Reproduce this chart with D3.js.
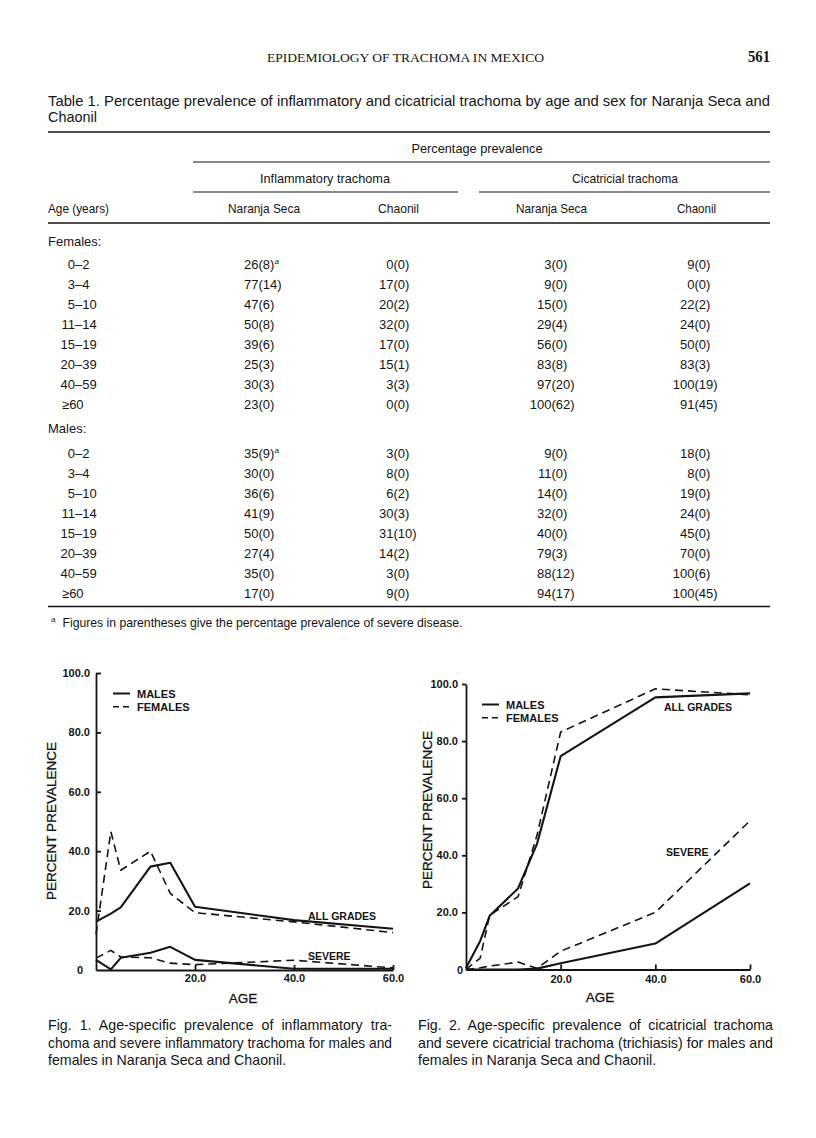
<!DOCTYPE html>
<html><head><meta charset="utf-8">
<script src="https://cdn.jsdelivr.net/npm/d3@7"></script>
<style>body{margin:0;background:#fff} svg{display:block}</style>
</head><body>
<svg id="page" width="816" height="1138"></svg>
<script>
// ---------- text content ----------
const pageHeader = "EPIDEMIOLOGY OF TRACHOMA IN MEXICO";
const pageNumber = "561";
const tableCaption = ["Table 1. Percentage prevalence of inflammatory and cicatricial trachoma by age and sex for Naranja Seca and", "Chaonil"];
const spanHeader = "Percentage prevalence";
const groupHeaders = ["Inflammatory trachoma", "Cicatricial trachoma"];
const columnHeaders = ["Age (years)", "Naranja Seca", "Chaonil", "Naranja Seca", "Chaonil"];
const sexLabels = ["Females:", "Males:"];
const ageGroups = ["0–2", "3–4", "5–10", "11–14", "15–19", "20–39", "40–59", "≥60"];
const footnote = "Figures in parentheses give the percentage prevalence of severe disease.";

// ---------- table values: prevalence (severe) ----------
const femInflNS  = [26, 77, 47, 50, 39, 25, 30, 23];
const femInflNSs = [8, 14, 6, 8, 6, 3, 3, 0];
const femInflCh  = [0, 17, 20, 32, 17, 15, 3, 0];
const femInflChs = [0, 0, 2, 0, 0, 1, 3, 0];
const femCicNS   = [3, 9, 15, 29, 56, 83, 97, 100];
const femCicNSs  = [0, 0, 0, 4, 0, 8, 20, 62];
const femCicCh   = [9, 0, 22, 24, 50, 83, 100, 91];
const femCicChs  = [0, 0, 2, 0, 0, 3, 19, 45];
const malInflNS  = [35, 30, 36, 41, 50, 27, 35, 17];
const malInflNSs = [9, 0, 6, 9, 0, 4, 0, 0];
const malInflCh  = [3, 8, 6, 30, 31, 14, 3, 9];
const malInflChs = [0, 0, 2, 3, 10, 2, 0, 0];
const malCicNS   = [9, 11, 14, 32, 40, 79, 88, 94];
const malCicNSs  = [0, 0, 0, 0, 0, 3, 12, 17];
const malCicCh   = [18, 8, 19, 24, 45, 70, 100, 100];
const malCicChs  = [0, 0, 0, 0, 0, 0, 6, 45];

// ---------- figure data ----------
const ages = [0, 3, 5, 11, 15, 20, 40, 60];
const yTicks = [20, 40, 60, 80, 100];
const xTicks = [20, 40, 60];
const legendLabels = ["MALES", "FEMALES"];
const fig1MalesAll     = [16.3, 19, 21.1, 34.8, 36.1, 21.3, 16.8, 13.9];
const fig1FemalesAll   = [12, 46.6, 33.6, 40, 25.8, 19.3, 16.2, 12.6];
const fig1MalesSevere  = [3.4, 0.2, 4.1, 5.8, 7.8, 3.4, 0.4, 0.4];
const fig1FemalesSevere= [4.0, 6.6, 4.4, 4.1, 2.3, 1.8, 3.3, 0.7];
const fig2MalesAll     = [0.5, 10, 18.8, 28.4, 44, 74.7, 95.3, 96.7];
const fig2FemalesAll   = [0, 4, 19, 25.5, 47, 83.2, 98.3, 96.2];
const fig2MalesSevere  = [0, 0, 0, 0, 0.3, 2.2, 9.1, 30.2];
const fig2FemalesSevere= [0, 0.6, 1.2, 2.6, 0.4, 6.4, 20, 52.1];
const fig1Caption = ["Fig. 1. Age-specific prevalence of inflammatory tra-", "choma and severe inflammatory trachoma for males and", "females in Naranja Seca and Chaonil."];
const fig2Caption = ["Fig. 2. Age-specific prevalence of cicatricial trachoma", "and severe cicatricial trachoma (trichiasis) for males and", "females in Naranja Seca and Chaonil."];

// ---------- drawing ----------
const svg = d3.select("#page");
const INK = "#141414";
const SANS = "'Liberation Sans', Arial, sans-serif";
const SERIF = "'Liberation Serif', 'Times New Roman', serif";

function txt(x, y, s, opts = {}) {
  const t = svg.append("text").attr("x", x).attr("y", y).text(s)
    .attr("font-family", opts.family || SANS)
    .attr("font-size", opts.size || 13)
    .attr("fill", INK)
    .attr("text-anchor", opts.anchor || "start");
  if (opts.weight) t.attr("font-weight", opts.weight);
  if (opts.width) fit(t, opts.width);
  return t;
}
function fit(t, w) {
  const n = t.node().getComputedTextLength();
  if (Math.abs(n - w) > 1) t.attr("textLength", w).attr("lengthAdjust", "spacingAndGlyphs");
}
function justify(t, w) {
  const n = t.node().getComputedTextLength();
  const spaces = (t.text().match(/ /g) || []).length;
  if (n < w && spaces) t.attr("word-spacing", (w - n) / spaces);
  else if (n > w) t.attr("textLength", w).attr("lengthAdjust", "spacingAndGlyphs");
}
function rule(x1, x2, y, w) {
  svg.append("line").attr("x1", x1).attr("x2", x2).attr("y1", y).attr("y2", y)
    .attr("stroke", INK).attr("stroke-width", w || 1.2);
}

// page header
txt(405.5, 61.5, pageHeader, {family: SERIF, size: 12.5, anchor: "middle", width: 277});
txt(770, 62, pageNumber, {family: SERIF, size: 16, anchor: "end", weight: "bold", width: 22});

// table caption
justify(txt(48, 106, tableCaption[0], {size: 14.8}), 722);
txt(48, 121.5, tableCaption[1], {size: 14.8, width: 49});

// rules
rule(48, 770, 132, 1.6);
rule(193, 770, 162, 1.2);
rule(193, 458, 192, 1.2);
rule(479, 770, 192, 1.2);
rule(48, 770, 223, 1.4);
rule(48, 770, 606.5, 1.6);

txt(477, 152.5, spanHeader, {anchor: "middle", width: 131});
txt(325, 182.5, groupHeaders[0], {anchor: "middle", width: 130});
txt(625, 182.5, groupHeaders[1], {anchor: "middle", width: 106});
txt(48, 212.5, columnHeaders[0], {width: 61});
txt(264, 212.5, columnHeaders[1], {anchor: "middle", width: 72});
txt(398.5, 212.5, columnHeaders[2], {anchor: "middle", width: 41});
txt(551.5, 212.5, columnHeaders[3], {anchor: "middle", width: 71});
txt(696.5, 212.5, columnHeaders[4], {anchor: "middle", width: 39});

const parenX = [258.5, 393.5, 551.5, 694.5];
function ageLabel(y, s) {
  if (s.includes("–")) {
    const [a, b] = s.split("–");
    txt(75, y, a, {anchor: "end"});
    txt(75, y, "–" + b);
  } else {
    txt(62, y, s);
  }
}
function cell(col, y, v, sv, mark) {
  txt(parenX[col], y, String(v), {anchor: "end"});
  const t = txt(parenX[col], y, "(" + sv + ")");
  if (mark) t.append("tspan").attr("font-size", 8).attr("font-style", "italic").attr("dy", -5).text("a");
}
function block(label, yLabel, y0, cols) {
  txt(48, yLabel, label);
  ageGroups.forEach((g, i) => {
    const y = y0 + 20 * i;
    ageLabel(y, g);
    cols.forEach((c, j) => cell(j, y, c[0][i], c[1][i], i === 0 && j === 0));
  });
}
block(sexLabels[0], 245.5, 268.5, [[femInflNS, femInflNSs], [femInflCh, femInflChs], [femCicNS, femCicNSs], [femCicCh, femCicChs]]);
block(sexLabels[1], 432.5, 457.5, [[malInflNS, malInflNSs], [malInflCh, malInflChs], [malCicNS, malCicNSs], [malCicCh, malCicChs]]);

// footnote
svg.append("text").attr("x", 51).attr("y", 622).attr("font-family", SANS).attr("font-size", 8)
  .attr("font-style", "italic").attr("fill", INK).text("a");
txt(62.5, 626.5, footnote, {width: 400});

// ---------- figures ----------
function figure(cfg) {
  const x = d3.scaleLinear().domain([0, 60]).range(cfg.xr);
  const y = d3.scaleLinear().domain([0, 100]).range(cfg.yr);
  const g = svg.append("g");
  const ya = d3.axisLeft(y).tickValues(yTicks).tickFormat(d => d.toFixed(1))
    .tickSizeInner(cfg.yTick).tickSizeOuter(0).tickPadding(cfg.yPad);
  const yg = g.append("g").attr("transform", `translate(${cfg.xr[0]},0)`).call(ya);
  const xa = d3.axisBottom(x).tickValues(xTicks).tickFormat(d => d.toFixed(1))
    .tickSizeInner(-5).tickSizeOuter(0).tickPadding(cfg.xPad);
  const xg = g.append("g").attr("transform", `translate(0,${cfg.yr[0]})`).call(xa);
  [yg, xg].forEach(a => {
    a.selectAll("path,line").attr("stroke", INK).attr("stroke-width", 1.8);
    a.selectAll("text").attr("font-family", SANS).attr("font-size", 11)
      .attr("font-weight", "bold").attr("fill", INK);
  });
  g.append("text").attr("x", cfg.zeroX).attr("y", y(0) + 4).attr("text-anchor", "end")
    .attr("font-family", SANS).attr("font-size", 11).attr("font-weight", "bold").attr("fill", INK).text("0");
  g.append("text").attr("transform", `translate(${cfg.titleX},${cfg.titleY}) rotate(-90)`)
    .attr("text-anchor", "middle").attr("font-family", SANS).attr("font-size", 13.5).attr("fill", INK)
    .attr("stroke", INK).attr("stroke-width", 0.3)
    .text("PERCENT PREVALENCE");
  g.append("text").attr("x", cfg.ageX).attr("y", cfg.ageY).attr("text-anchor", "middle")
    .attr("font-family", SANS).attr("font-size", 13.5).attr("fill", INK)
    .attr("stroke", INK).attr("stroke-width", 0.3).text("AGE");
  const line = d3.line().x((d, i) => x(ages[i])).y(d => y(d));
  const series = [[cfg.mAll, false], [cfg.fAll, true], [cfg.mSev, false], [cfg.fSev, true]];
  series.forEach(([vals, dashed]) => {
    g.append("path").attr("d", line(vals)).attr("fill", "none").attr("stroke", INK)
      .attr("stroke-width", dashed ? 1.6 : 2.1)
      .attr("stroke-linejoin", "round")
      .attr("stroke-dasharray", dashed ? "8,5" : null);
  });
  legendLabels.forEach((l, i) => {
    const ly = cfg.legY + i * 13.3;
    g.append("line").attr("x1", cfg.legX).attr("x2", cfg.legX + 17).attr("y1", ly).attr("y2", ly)
      .attr("stroke", INK).attr("stroke-width", i ? 1.6 : 2)
      .attr("stroke-dasharray", i ? "6,4" : null);
    g.append("text").attr("x", cfg.legX + 24).attr("y", ly + 4).attr("font-family", SANS)
      .attr("font-size", 11).attr("font-weight", "bold").attr("fill", INK).text(l);
  });
  g.append("text").attr("x", cfg.allX).attr("y", cfg.allY).attr("font-family", SANS)
    .attr("font-size", 10.5).attr("font-weight", "bold").attr("fill", INK).text("ALL GRADES");
  g.append("text").attr("x", cfg.sevX).attr("y", cfg.sevY).attr("font-family", SANS)
    .attr("font-size", 10.5).attr("font-weight", "bold").attr("fill", INK).text("SEVERE");
}

figure({xr: [96, 393], yr: [970, 673], yTick: -5, yPad: 6, xPad: 4, zeroX: 83,
  titleX: 56, titleY: 821, ageX: 243, ageY: 1003,
  mAll: fig1MalesAll, fAll: fig1FemalesAll, mSev: fig1MalesSevere, fSev: fig1FemalesSevere,
  legX: 113, legY: 693.5, allX: 308, allY: 920, sevX: 308, sevY: 960});
figure({xr: [466, 750], yr: [969.5, 684], yTick: 4, yPad: 4, xPad: 5.5, zeroX: 463,
  titleX: 432, titleY: 810, ageX: 600, ageY: 1002,
  mAll: fig2MalesAll, fAll: fig2FemalesAll, mSev: fig2MalesSevere, fSev: fig2FemalesSevere,
  legX: 482, legY: 704.5, allX: 664, allY: 711, sevX: 666, sevY: 856});

// captions
function caption(lines, x, w) {
  lines.forEach((s, i) => {
    const t = txt(x, 1030 + i * 17.5, s, {size: 14.2});
    if (i < lines.length - 1) justify(t, w);
  });
}
caption(fig1Caption, 48, 344);
caption(fig2Caption, 418, 355);
</script>
</body></html>
